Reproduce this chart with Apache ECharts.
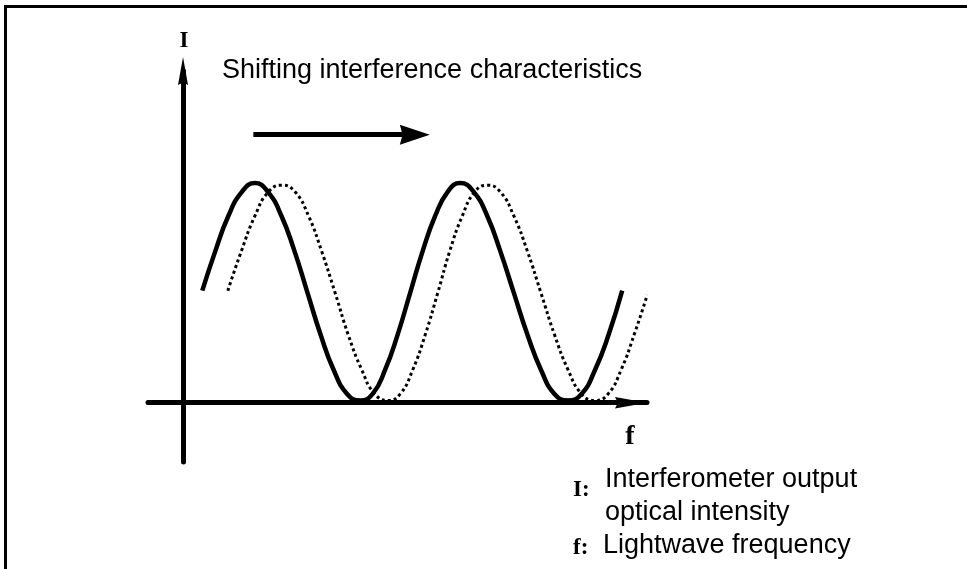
<!DOCTYPE html>
<html>
<head>
<meta charset="utf-8">
<title>Shifting interference characteristics</title>
<script src="https://cdn.jsdelivr.net/npm/echarts@6/dist/echarts.min.js"></script>
<style>
  html, body { margin: 0; padding: 0; background: #fff; }
  #wrap { position: relative; width: 967px; height: 569px; overflow: hidden; }
  #chart { width: 967px; height: 569px; }
  /* scanned figure frame: only top and left edges are visible */
  #frame {
    position: absolute; left: 4px; top: 5px; right: -10px; bottom: -10px;
    border-top: 3px solid #000; border-left: 3px solid #000; pointer-events: none;
  }
</style>
</head>
<body>
<div id="wrap">
  <div id="chart"></div>
  <div id="frame"></div>
</div>
<script>
// thick solid curve: interference characteristic before the shift
const solidF = [0.37, 0.62, 0.87, 1.13, 1.38, 1.63, 1.89, 2.14, 2.39, 2.64, 2.89, 3.15, 3.40, 3.64, 3.88, 4.12, 4.36,
  4.60, 4.84, 5.08, 5.32, 5.58, 5.84, 6.09, 6.35, 6.61, 6.87, 7.13, 7.39, 7.65, 7.91, 8.17, 8.43];
const solidI = [0.51, 0.69, 0.85, 0.96, 1.0, 0.96, 0.85, 0.69, 0.5, 0.31, 0.15, 0.04, 0.01, 0.04, 0.15, 0.31, 0.5,
  0.69, 0.85, 0.96, 1.0, 0.96, 0.85, 0.69, 0.5, 0.31, 0.15, 0.04, 0.01, 0.04, 0.15, 0.31, 0.51];

// dotted curve: the same characteristic shifted to higher frequency
const dottedF = [0.86, 1.12, 1.38, 1.64, 1.90, 2.15, 2.41, 2.66, 2.92, 3.17, 3.43, 3.68, 3.94, 4.17, 4.41, 4.65, 4.89,
  5.12, 5.36, 5.60, 5.84, 6.09, 6.35, 6.61, 6.87, 7.13, 7.39, 7.65, 7.91, 8.16, 8.41, 8.66, 8.91];
const dottedI = [0.51, 0.69, 0.85, 0.96, 0.99, 0.96, 0.85, 0.69, 0.5, 0.31, 0.15, 0.04, 0.01, 0.04, 0.15, 0.31, 0.5,
  0.69, 0.85, 0.96, 0.99, 0.96, 0.85, 0.69, 0.5, 0.31, 0.15, 0.04, 0.01, 0.04, 0.15, 0.31, 0.49];

// "shift" arrow drawn above the curves (f from -> to, at intensity level)
const shiftArrowF = [1.35, 4.45];
const shiftArrowI = 1.22;

// axis extents (axes cross at f = 0, I = 0)
const axisRangeF = [-0.672, 8.906];
const axisRangeI = [-0.27, 1.51];

// arrow head with a slight notch, pointing up before rotation
const arrowHead = "path://M5,0 L10,28 L5,25.5 L0,28 Z";

const serifBold = '"Liberation Serif", "DejaVu Serif", serif';
const sans = '"Liberation Sans", Arial, sans-serif';

function pairs(xs, ys) {
  return xs.map((x, i) => [x, ys[i]]);
}

function label(text, x, y, font, align) {
  return {
    type: "text",
    x: x,
    y: y,
    silent: true,
    style: {
      text: text,
      font: font,
      fill: "#000",
      align: align || "left",
      verticalAlign: "middle",
    },
  };
}

const chart = echarts.init(document.getElementById("chart"), null, { renderer: "canvas" });

const axisCommon = {
  type: "value",
  axisTick: { show: false },
  axisLabel: { show: false },
  splitLine: { show: false },
};

const option = {
  animation: false,
  backgroundColor: "#fff",
  grid: { left: 148, right: 320, top: 71, bottom: 107, containLabel: false },
  xAxis: {
    ...axisCommon,
    min: axisRangeF[0],
    max: axisRangeF[1],
    axisLine: {
      onZero: true,
      symbol: ["none", arrowHead],
      symbolSize: [20, 32],
      symbolOffset: [0, -16], // keep the tip on the axis end
      lineStyle: { color: "#000", width: 5 },
    },
  },
  yAxis: {
    ...axisCommon,
    min: axisRangeI[0],
    max: axisRangeI[1],
    axisLine: {
      onZero: true,
      symbol: ["none", arrowHead],
      symbolSize: [20, 28],
      lineStyle: { color: "#000", width: 5 },
    },
  },
  graphic: [
    label("I", 184, 41, "bold 23px " + serifBold, "center"),
    label("Shifting interference characteristics", 222, 71, "27px " + sans),
    label("f", 630, 437, "bold 28px " + serifBold, "center"),
    label("I:", 573, 490, "bold 23px " + serifBold),
    label("Interferometer output", 605, 480, "27px " + sans),
    label("optical intensity", 605, 513, "27px " + sans),
    label("f:", 573, 548, "bold 23px " + serifBold),
    label("Lightwave frequency", 603, 546, "27px " + sans),
  ],
  series: [
    {
      name: "Before shift",
      type: "line",
      data: pairs(solidF, solidI),
      smooth: true,
      symbol: "none",
      clip: false,
      silent: true,
      lineStyle: { color: "#000", width: 4.5 },
      markLine: {
        silent: true,
        symbol: ["none", arrowHead],
        symbolSize: [20, 30],
        label: { show: false },
        emphasis: { disabled: true },
        lineStyle: { color: "#000", width: 5, type: "solid" },
        data: [
          [
            { coord: [shiftArrowF[0], shiftArrowI] },
            { coord: [shiftArrowF[1], shiftArrowI] },
          ],
        ],
      },
    },
    {
      name: "After shift",
      type: "line",
      data: pairs(dottedF, dottedI),
      smooth: true,
      symbol: "none",
      clip: false,
      silent: true,
      lineStyle: { color: "#000", width: 3, type: [3, 3] },
    },
  ],
};

chart.setOption(option);
</script>
</body>
</html>
